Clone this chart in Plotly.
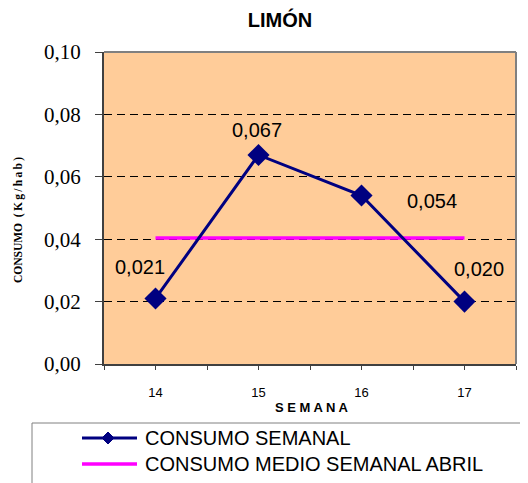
import plotly.graph_objects as go

semanas = [14, 15, 16, 17]
consumo_semanal = [0.021, 0.067, 0.054, 0.020]
consumo_medio_abril = [0.0404, 0.0404, 0.0404, 0.0404]
etiquetas = ["0,021", "0,067", "0,054", "0,020"]
y_ticks = [0.0, 0.02, 0.04, 0.06, 0.08, 0.10]

# page body margin of 8px offsets the figure; size the figure to fit the window
OFF = 8
W, H = 528 - OFF, 483 - OFF
# plot area in reference (window) pixel coordinates
PX0, PX1, PY0, PY1 = 104, 516, 52, 364
L, R, T, B = PX0 - OFF, W - (PX1 - OFF), PY0 - OFF, H - (PY1 - OFF)
PW, PH = PX1 - PX0, PY1 - PY0

def px_x(x):
    return (x - PX0) / PW

def px_y(y):
    return (PY1 - y) / PH

fig = go.Figure()
fig.add_trace(go.Scatter(
    x=semanas, y=consumo_medio_abril, mode="lines",
    line=dict(color="#FF00FF", width=3.5),
    name="CONSUMO MEDIO SEMANAL ABRIL", showlegend=False, hoverinfo="skip"))
fig.add_trace(go.Scatter(
    x=semanas, y=consumo_semanal, mode="lines+markers",
    line=dict(color="#000080", width=3),
    marker=dict(symbol="diamond", size=17, color="#000080"),
    name="CONSUMO SEMANAL", showlegend=False))

# data labels
shifts = [(-16, 31), (-2, 25), (70, -5), (14, 33)]
for x, y, t, (dx, dy) in zip(semanas, consumo_semanal, etiquetas, shifts):
    fig.add_annotation(x=x, y=y, text=t, showarrow=False, xshift=dx, yshift=dy,
                       font=dict(family="Liberation Sans, Arial", size=20, color="black"))

# x tick values: boundaries + categories
xt = []
xtt = []
for s in semanas:
    xt += [s - 0.5, s]
    xtt += ["", str(s)]
xt.append(semanas[-1] + 0.5)
xtt.append("")

fig.update_layout(
    width=W, height=H,
    margin=dict(l=L, r=R, t=T, b=B),
    paper_bgcolor="white",
    plot_bgcolor="#FFCC99",
    separators=",.",
    showlegend=False,
    title=dict(text="<b>LIMÓN</b>", x=(280 - OFF) / W, xref="container", xanchor="center",
               y=1 - (20 - OFF) / H, yref="container", yanchor="middle",
               font=dict(family="Liberation Sans, Arial", size=20, color="black")),
    xaxis=dict(range=[13.5, 17.5], tickvals=xt, ticktext=xtt, showgrid=False,
               zeroline=False, ticks="outside", ticklen=4, tickcolor="#404040",
               showline=True, linecolor="#404040", linewidth=2,
               tickfont=dict(family="Liberation Sans, Arial", size=13, color="black"),
               ticklabelstandoff=11),
    yaxis=dict(range=[0, 0.1], tickvals=y_ticks, tickformat=".2f",
               showgrid=True, gridcolor="black", griddash="8px,5px", gridwidth=1,
               zeroline=False, ticks="outside", ticklen=7, tickcolor="#404040",
               showline=True, linecolor="#404040", linewidth=2,
               tickfont=dict(family="Liberation Serif, Times New Roman", size=21, color="black"),
               ticklabelstandoff=10),
)

# top/right border of plot area
fig.add_shape(type="line", xref="paper", yref="paper", x0=0, x1=1, y0=1, y1=1,
              line=dict(color="#808080", width=2))
fig.add_shape(type="line", xref="paper", yref="paper", x0=1, x1=1, y0=0, y1=1,
              line=dict(color="#808080", width=2))

# axis titles
fig.add_annotation(xref="paper", yref="paper", x=px_x(312), y=px_y(407), text="<b>S E M A N A</b>",
                   showarrow=False, xanchor="center", yanchor="middle",
                   font=dict(family="Liberation Sans, Arial", size=13, color="black"))
fig.add_annotation(xref="paper", yref="paper", x=px_x(18), y=px_y(220),
                   text="<b>CONSUMO\u00a0\u00a0(\u2009K\u2009g\u2009/\u2009h\u2009a\u2009b\u2009)</b>", textangle=-90,
                   showarrow=False, xanchor="center", yanchor="middle",
                   font=dict(family="Liberation Serif, Times New Roman", size=11.5, color="black"))

# manual legend
fig.add_shape(type="rect", xref="paper", yref="paper", x0=px_x(32), x1=px_x(540),
              y0=px_y(423), y1=px_y(495), line=dict(color="#808080", width=1),
              fillcolor="white", layer="below")
fig.add_shape(type="line", xref="paper", yref="paper", x0=px_x(82), x1=px_x(137),
              y0=px_y(438), y1=px_y(438), line=dict(color="#000080", width=3))
cx, cy, r = 108, 438, 6
fig.add_shape(type="path", xref="paper", yref="paper",
              path=f"M {px_x(cx - r)} {px_y(cy)} L {px_x(cx)} {px_y(cy - r)} L {px_x(cx + r)} {px_y(cy)} L {px_x(cx)} {px_y(cy + r)} Z",
              fillcolor="#000080", line=dict(color="#000080", width=1))
fig.add_shape(type="line", xref="paper", yref="paper", x0=px_x(82), x1=px_x(137),
              y0=px_y(464), y1=px_y(464), line=dict(color="#FF00FF", width=3.5))
fig.add_annotation(xref="paper", yref="paper", x=px_x(143), y=px_y(438),
                   text="CONSUMO SEMANAL", showarrow=False, xanchor="left", yanchor="middle",
                   font=dict(family="Liberation Sans, Arial", size=20, color="black"))
fig.add_annotation(xref="paper", yref="paper", x=px_x(143), y=px_y(464),
                   text="CONSUMO MEDIO SEMANAL ABRIL", showarrow=False, xanchor="left", yanchor="middle",
                   font=dict(family="Liberation Sans, Arial", size=20, color="black"))

fig.write_html("out.html")
